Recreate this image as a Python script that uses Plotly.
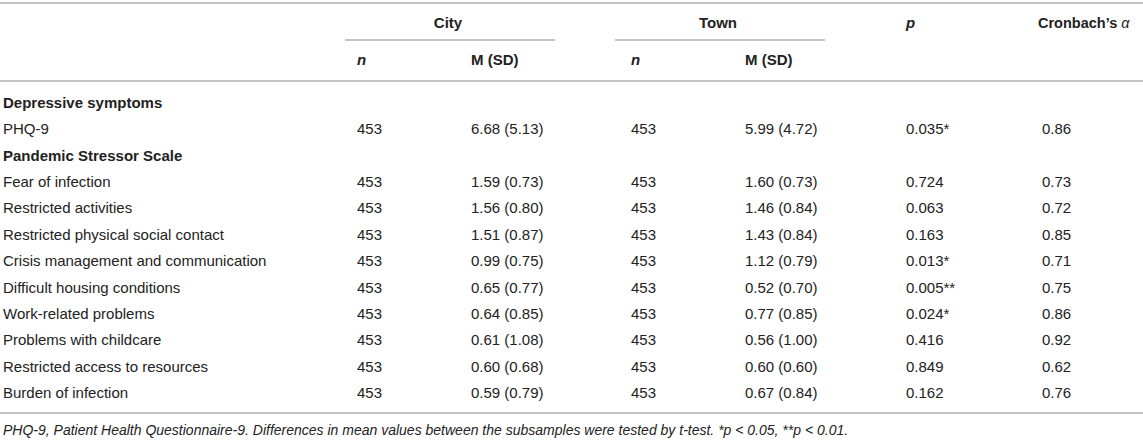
"""
Table: depressive symptoms and pandemic stressors, city vs town
"""
import plotly.graph_objects as go

# section headings and the rows that sit under them
sections = ["Depressive symptoms", "Pandemic Stressor Scale"]
depressive_items = ["PHQ-9"]
stressor_items = [
    "Fear of infection",
    "Restricted activities",
    "Restricted physical social contact",
    "Crisis management and communication",
    "Difficult housing conditions",
    "Work-related problems",
    "Problems with childcare",
    "Restricted access to resources",
    "Burden of infection",
]

# values, in the order PHQ-9 then the stressor items
city_n = [453, 453, 453, 453, 453, 453, 453, 453, 453, 453]
city_mean = [6.68, 1.59, 1.56, 1.51, 0.99, 0.65, 0.64, 0.61, 0.60, 0.59]
city_sd = [5.13, 0.73, 0.80, 0.87, 0.75, 0.77, 0.85, 1.08, 0.68, 0.79]
town_n = [453, 453, 453, 453, 453, 453, 453, 453, 453, 453]
town_mean = [5.99, 1.60, 1.46, 1.43, 1.12, 0.52, 0.77, 0.56, 0.60, 0.67]
town_sd = [4.72, 0.73, 0.84, 0.84, 0.79, 0.70, 0.85, 1.00, 0.60, 0.84]
p_values = [0.035, 0.724, 0.063, 0.163, 0.013, 0.005, 0.024, 0.416, 0.849, 0.162]
p_stars = ["*", "", "", "", "*", "**", "*", "", "", ""]
cronbach = [0.86, 0.73, 0.72, 0.85, 0.71, 0.75, 0.86, 0.92, 0.62, 0.76]

footnote = ("PHQ-9, Patient Health Questionnaire-9. Differences in mean values between the "
            "subsamples were tested by t-test. *p < 0.05, **p < 0.01.")

W, H = 1143, 442
TEXT = "#222222"
RULE = "#c4c4c4"
FONT = "Liberation Sans, Arial, sans-serif"

# column x (left edges) and row layout
col_x = {"label": 3, "city_n": 357, "city_m": 471, "town_n": 631, "town_m": 745,
         "p": 906, "alpha": 1042}
row_top = 104
row_step = 26.4


def build_rows():
    rows = []  # (label, is_section)
    rows.append((sections[0], True))
    for item in depressive_items:
        rows.append((item, False))
    rows.append((sections[1], True))
    for item in stressor_items:
        rows.append((item, False))
    return rows


def make_table() -> go.Figure:
    rows = build_rows()
    ys = [row_top + i * row_step for i in range(len(rows))]

    fig = go.Figure()

    def add_col(x, y, text, pos="middle right", size=15):
        fig.add_trace(go.Scatter(
            x=[x] * len(y), y=y, text=text, mode="text", textposition=pos,
            textfont=dict(family=FONT, size=size, color=TEXT),
            hoverinfo="skip", showlegend=False, cliponaxis=False))

    labels = [f"<b>{r[0]}</b>" if r[1] else r[0] for r in rows]
    add_col(col_x["label"], ys, labels)

    data_y = [ys[i] for i, r in enumerate(rows) if not r[1]]
    add_col(col_x["city_n"], data_y, [str(v) for v in city_n])
    add_col(col_x["city_m"], data_y, [f"{m:.2f} ({s:.2f})" for m, s in zip(city_mean, city_sd)])
    add_col(col_x["town_n"], data_y, [str(v) for v in town_n])
    add_col(col_x["town_m"], data_y, [f"{m:.2f} ({s:.2f})" for m, s in zip(town_mean, town_sd)])
    add_col(col_x["p"], data_y, [f"{p:.3f}{s}" for p, s in zip(p_values, p_stars)])
    add_col(col_x["alpha"], data_y, [f"{a:.2f}" for a in cronbach])

    # header
    head1_y, head2_y = 24, 61
    add_col(448, [head1_y], ["<b>City</b>"], pos="middle center")
    add_col(718, [head1_y], ["<b>Town</b>"], pos="middle center")
    add_col(col_x["p"], [head1_y], ["<b><i>p</i></b>"])
    add_col(col_x["alpha"] - 4, [head1_y], ["<b>Cronbach’s </b><i>α</i>"], size=14.5)
    add_col(col_x["city_n"], [head2_y], ["<b><i>n</i></b>"])
    add_col(col_x["city_m"], [head2_y], ["<b>M (SD)</b>"])
    add_col(col_x["town_n"], [head2_y], ["<b><i>n</i></b>"])
    add_col(col_x["town_m"], [head2_y], ["<b>M (SD)</b>"])

    # footnote
    add_col(col_x["label"], [431], [f"<i>{footnote}</i>"], size=14)

    # rules
    line = dict(color=RULE, width=2)
    for y in (3, 81, 413):
        fig.add_shape(type="line", x0=0, x1=W, y0=y, y1=y, xref="x", yref="y", line=line)
    fig.add_shape(type="line", x0=345, x1=555, y0=40, y1=40, xref="x", yref="y", line=line)
    fig.add_shape(type="line", x0=615, x1=825, y0=40, y1=40, xref="x", yref="y", line=line)

    fig.update_layout(
        width=W, height=H, margin=dict(l=0, r=0, t=0, b=0),
        paper_bgcolor="white", plot_bgcolor="white",
        xaxis=dict(range=[0, W], visible=False, fixedrange=True),
        yaxis=dict(range=[H, 0], visible=False, fixedrange=True),
    )
    return fig


def main():
    fig = make_table()
    # drop the browser's default page margin so the table sits at the top-left
    fig.write_html("out.html", config={"displayModeBar": False},
                   post_script="document.body.style.margin='0';")


if __name__ == "__main__":
    main()
